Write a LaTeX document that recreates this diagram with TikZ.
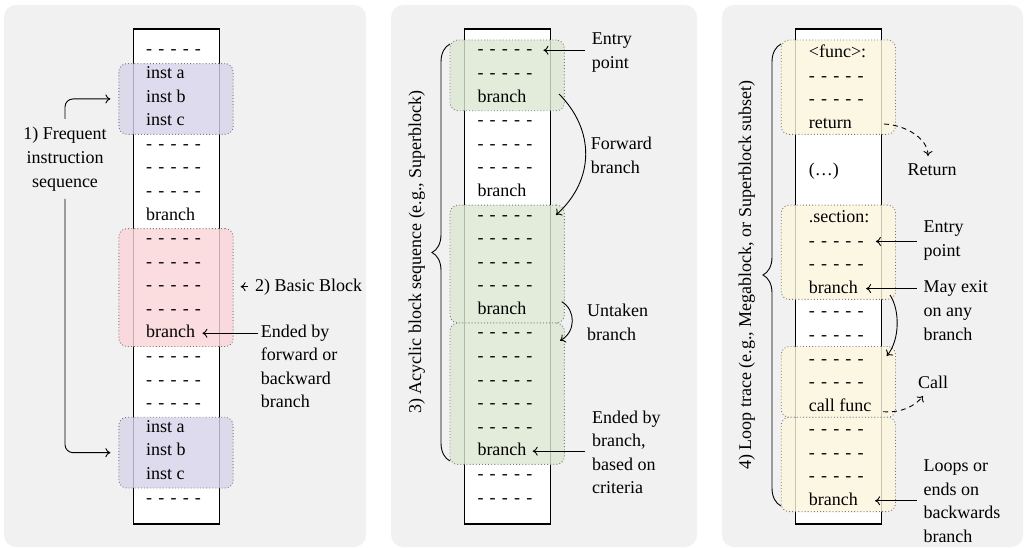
\documentclass[tikz,border=0pt]{standalone}
\usepackage{fontspec}
\setmainfont{Liberation Serif}
\usetikzlibrary{decorations.pathreplacing,arrows.meta}
\definecolor{panelbg}{RGB}{241,241,241}
\definecolor{purpF}{RGB}{215,211,234}
\definecolor{redF}{RGB}{251,212,216}
\definecolor{greenF}{RGB}{220,232,209}
\definecolor{yelF}{RGB}{252,246,220}
\definecolor{dotc}{RGB}{120,120,120}
\newcommand{\D}{{\spaceskip=6.2pt\relax - - - - -}}
\newcommand{\ml}[1]{\begin{tabular}[t]{@{}l@{}}#1\end{tabular}}
\newcommand{\mc}[1]{\begin{tabular}[t]{@{}c@{}}#1\end{tabular}}
\begin{document}
\begin{tikzpicture}[x=1pt,y=-1pt,
  every node/.style={font=\fontsize{18}{23.58}\selectfont, inner sep=0pt},
  panel/.style={fill=panelbg, rounded corners=12pt},
  column/.style={draw=black, fill=white, line width=1.1pt, minimum width=86pt, minimum height=495pt},
  hl/.style={draw=dotc, dash pattern=on 0.9pt off 2.2pt, line width=0.9pt, fill=#1, fill opacity=0.8, rounded corners=8pt, minimum width=114.3pt},
  row/.style={anchor=base west},
  lbl/.style={anchor=base west},
  arr/.style={-{Computer Modern Rightarrow[length=5pt,width=9pt]}, line width=0.9pt},
  dsh/.style={dash pattern=on 5pt off 4pt},
  brc/.style={decorate, decoration={brace, amplitude=18pt}, line width=0.9pt}
]
\useasboundingbox (0,0) rectangle (1026,548);
% panels
\fill[panel] (4,5) rectangle (366,547);
\fill[panel] (391,5) rectangle (697,547);
\fill[panel] (722,5) rectangle (1023,547);
% columns
\node[column] (c1) at (176.15,276.5) {};
\node[column] (c2) at (507.3,276.5) {};
\node[column] (c3) at (838.7,276.5) {};
% highlight boxes panel 1
\node[hl=purpF, minimum height=70.74pt] (pb1) at (176,98.95) {};
\node[hl=redF, minimum height=117.9pt] (rb) at (176,287.57) {};
\node[hl=purpF, minimum height=70.74pt] (pb2) at (176,452.65) {};
% panel 2
\node[hl=greenF, minimum height=70.74pt] (g1) at (507.15,75.37) {};
\node[hl=greenF, minimum height=117.9pt] (g2) at (507.15,264.01) {};
\node[hl=greenF, minimum height=141.48pt] (g3) at (507.15,393.7) {};
% panel 3
\node[hl=yelF, minimum height=94.32pt] (y1) at (838.35,87.16) {};
\node[hl=yelF, minimum height=94.32pt] (y2) at (838.35,252.22) {};
\node[hl=yelF, minimum height=70.74pt] (y3) at (838.35,381.91) {};
\node[hl=yelF, minimum height=94.32pt] (y4) at (838.35,464.44) {};
% rows
\foreach \t [count=\i from 0] in {\D,inst a,inst b,inst c,\D,\D,\D,branch,\D,\D,\D,\D,branch,\D,\D,\D,inst a,inst b,inst c,\D}
  \node[row] (p1r\i) at (146,{55+23.58*\i}) {\strut\t};
\foreach \t [count=\i from 0] in {\D,\D,branch,\D,\D,\D,branch,\D,\D,\D,\D,branch,\D,\D,\D,\D,\D,branch,\D,\D}
  \node[row] (p2r\i) at (477.3,{55+23.58*\i}) {\strut\t};
\foreach \t [count=\i from 0] in {<func>:,\D,\D,return,{},(…),{},.section:,\D,\D,branch,\D,\D,\D,\D,call func,\D,\D,\D,branch}
  \node[row] (p3r\i) at (808.7,{57.5+23.58*\i}) {\strut\t};
% panel 1 labels
\node[anchor=base, inner sep=4.5pt] (fis) at (65,140) {\mc{1) Frequent\\instruction\\sequence}};
\draw[arr, rounded corners=8pt, shorten >=8pt] (fis.north) |- (pb1.west);
\draw[arr, rounded corners=8pt, shorten >=8pt] (fis.south) |- (pb2.west);
\node[anchor=base west, inner xsep=7pt] (bbl) at (248,291) {2) Basic Block};
\draw[arr, shorten >=7pt] (bbl.west) -- (bbl.west -| rb.east);
\node[lbl] (e1) at (260.7,337) {\ml{Ended by\\forward or\\backward\\branch}};
\draw[arr, shorten <=2.5pt, shorten >=7pt] (p1r12.east -| e1.west) -- (p1r12.east);
% panel 2 labels
\draw[brc] (450,461) coordinate (b2s) -- (450,44) coordinate (b2e);
\node[rotate=90] (l2) at (416.7,252) {3) Acyclic block sequence (e.g., Superblock)};
\node[lbl] (en2) at (591.7,45) {\ml{Entry\\point}};
\draw[arr, shorten <=6.7pt, shorten >=11pt] (p2r0.east -| en2.west) -- (p2r0.east);
\node[lbl] (fw) at (590.7,150) {\ml{Forward\\branch}};
\coordinate (fb1) at (559,94);
\coordinate (fb2) at (556,215);
\draw[arr] (fb1) .. controls (595,130) and (595,180) .. (fb2);
\node[lbl] (ut) at (587,316.7) {\ml{Untaken\\branch}};
\coordinate (ub1) at (561.7,301.7);
\coordinate (ub2) at (560,340.7);
\draw[arr] (ub1) .. controls (576,310) and (576,332) .. (ub2);
\node[lbl] (e2) at (592,423) {\ml{Ended by\\branch,\\based on\\criteria}};
\draw[arr, shorten <=7pt, shorten >=6pt] (p2r17.east -| e2.west) -- (p2r17.east);
% panel 3 labels
\draw[brc] (781,506) coordinate (b3s) -- (781,44) coordinate (b3e);
\node[rotate=90] (l3) at (746.7,275) {4) Loop trace (e.g., Megablock, or Superblock subset)};
\node[anchor=base] (ret) at (932,176) {Return};
\coordinate (rt1) at (884,124);
\coordinate (rt2) at (928,156);
\draw[arr, dsh] (rt1) .. controls (905,125) and (928,138) .. (rt2);
\node[lbl] (en3) at (923.3,233) {\ml{Entry\\point}};
\draw[arr, shorten <=6.6pt, shorten >=12pt] (p3r8.east -| en3.west) -- (p3r8.east);
\node[lbl] (me) at (923.3,293) {\ml{May exit\\on any\\branch}};
\draw[arr, shorten <=6.6pt, shorten >=8pt] (p3r10.east -| me.west) -- (p3r10.east);
\coordinate (mb1) at (890,295);
\coordinate (mb2) at (886.7,356);
\draw[arr] (mb1) .. controls (900,310) and (900,340) .. (mb2);
\node[lbl] (cl) at (918,388.3) {Call};
\coordinate (cf1) at (883,411.7);
\coordinate (cf2) at (923,396);
\draw[arr, dsh] (cf1) .. controls (902,413) and (915,406) .. (cf2);
\node[lbl] (lp) at (923.3,471.7) {\ml{Loops or\\ends on\\backwards\\branch}};
\draw[arr, shorten <=6.6pt, shorten >=17pt] (p3r19.east -| lp.west) -- (p3r19.east);
\end{tikzpicture}
\end{document}
